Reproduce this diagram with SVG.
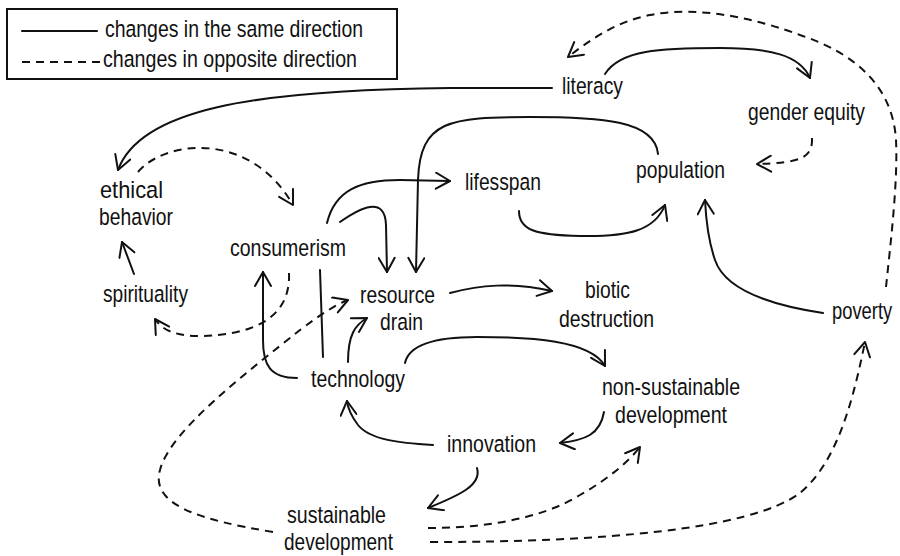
<svg xmlns="http://www.w3.org/2000/svg" width="900" height="556" viewBox="0 0 900 556">
<style>
text{font-family:"Liberation Sans Narrow","Liberation Sans",Arial,sans-serif;font-size:24.5px;fill:#111}
.c{fill:none;stroke:#111;stroke-width:2;stroke-linecap:round;stroke-linejoin:round}
.a{marker-end:url(#arr)}
.d{stroke-dasharray:8 6;stroke-linecap:butt}
</style>
<defs>
<marker id="arr" viewBox="-16 -9 18 18" markerWidth="18" markerHeight="18" refX="0" refY="0" orient="auto" markerUnits="userSpaceOnUse">
<path d="M-14,-8 L0,0 L-14,8" fill="none" stroke="#111" stroke-width="2" stroke-linecap="round" stroke-linejoin="round"/>
</marker>
</defs>
<rect width="900" height="556" fill="#fff"/>
<g id="legend">
<rect x="7" y="9" width="390" height="70" fill="none" stroke="#111" stroke-width="2"/>
<line x1="22" y1="31" x2="97" y2="31" class="c"/>
<text x="105" y="37" textLength="258" lengthAdjust="spacingAndGlyphs">changes in the same direction</text>
<line x1="22" y1="62" x2="100" y2="62" class="c d"/>
<text x="103" y="67" textLength="254" lengthAdjust="spacingAndGlyphs">changes in opposite direction</text>
</g>
<g id="connectors">
<path class="c a" d="M552,88 L450,88 C250,90 140,110 118,170"/>
<path class="c a d" d="M138,172 C165,140 250,130 293,205"/>
<path class="c a" d="M134,274 Q128,258 122,242"/>
<path class="c a d" d="M289,273 C291,320 250,335 200,336 C175,336 162,330 155,319"/>
<path class="c a" d="M327,223 C335,190 360,180 400,180 L450,181"/>
<path class="c a" d="M340,222 C360,208 385,195 386,225 L387,272"/>
<path class="c a" d="M658,154 C655,120 600,117 530,117 C450,117 420,120 418,180 L416,272"/>
<path class="c a" d="M519,211 C519,230 535,235 580,236 C630,237 655,230 665,205"/>
<path class="c a" d="M605,74 C620,50 660,48 720,48 C770,48 800,55 810,78"/>
<path class="c a d" d="M812,138 C813,158 800,163 757,164"/>
<path class="c a d" d="M886,287 C891,240 898,180 896,140 C893,90 860,55 800,35 C760,20 700,5 650,15 C615,22 590,40 568,57"/>
<path class="c a" d="M823,313 C770,305 725,290 715,260 C708,240 706,220 705,200"/>
<path class="c a" d="M450,293 C480,285 510,282 552,291"/>
<path class="c a" d="M348,362 C348,335 355,325 367,318"/>
<path class="c a" d="M405,363 C410,340 450,337 477,337 C530,337 590,340 605,366"/>
<path class="c a" d="M297,378 C270,378 263,365 263,340 L263,272"/>
<path class="c" d="M320,270 L323,357"/>
<path class="c a d" d="M273,532 C200,520 150,505 160,470 C170,430 250,370 300,330 C320,315 335,305 348,300"/>
<path class="c a" d="M433,445 C400,443 370,440 358,425 C352,417 348,410 347,401"/>
<path class="c a" d="M604,412 C600,435 585,440 560,443"/>
<path class="c a" d="M477,468 C482,485 460,495 428,508"/>
<path class="c a d" d="M428,528 C480,528 540,520 580,495 C610,478 630,460 640,447"/>
<path class="c a d" d="M430,542 C600,542 750,530 800,493 C840,460 855,390 865,342"/>
</g>
<g id="literacy"><text x="562" y="94" textLength="61" lengthAdjust="spacingAndGlyphs">literacy</text></g>
<g id="gender-equity"><text x="748" y="120" textLength="117" lengthAdjust="spacingAndGlyphs">gender equity</text></g>
<g id="population"><text x="636" y="178" textLength="89" lengthAdjust="spacingAndGlyphs">population</text></g>
<g id="lifesspan"><text x="465" y="190" textLength="76" lengthAdjust="spacingAndGlyphs">lifesspan</text></g>
<g id="ethical-behavior"><text x="100" y="198" textLength="63" lengthAdjust="spacingAndGlyphs">ethical</text><text x="99" y="225" textLength="74" lengthAdjust="spacingAndGlyphs">behavior</text></g>
<g id="consumerism"><text x="230" y="256" textLength="116" lengthAdjust="spacingAndGlyphs">consumerism</text></g>
<g id="spirituality"><text x="103" y="302" textLength="85" lengthAdjust="spacingAndGlyphs">spirituality</text></g>
<g id="resource-drain"><text x="360" y="303" textLength="75" lengthAdjust="spacingAndGlyphs">resource</text><text x="380" y="330" textLength="43" lengthAdjust="spacingAndGlyphs">drain</text></g>
<g id="biotic-destruction"><text x="585" y="298" textLength="45" lengthAdjust="spacingAndGlyphs">biotic</text><text x="559" y="327" textLength="95" lengthAdjust="spacingAndGlyphs">destruction</text></g>
<g id="poverty"><text transform="translate(832,319) scale(0.75,1)" x="0" y="0">poverty</text></g>
<g id="technology"><text x="311" y="387" textLength="94" lengthAdjust="spacingAndGlyphs">technology</text></g>
<g id="non-sustainable-development"><text x="602" y="395" textLength="138" lengthAdjust="spacingAndGlyphs">non-sustainable</text><text x="615" y="423" textLength="112" lengthAdjust="spacingAndGlyphs">development</text></g>
<g id="innovation"><text x="447" y="452" textLength="89" lengthAdjust="spacingAndGlyphs">innovation</text></g>
<g id="sustainable-development"><text x="287" y="523" textLength="99" lengthAdjust="spacingAndGlyphs">sustainable</text><text x="284" y="550" textLength="109" lengthAdjust="spacingAndGlyphs">development</text></g>
</svg>
